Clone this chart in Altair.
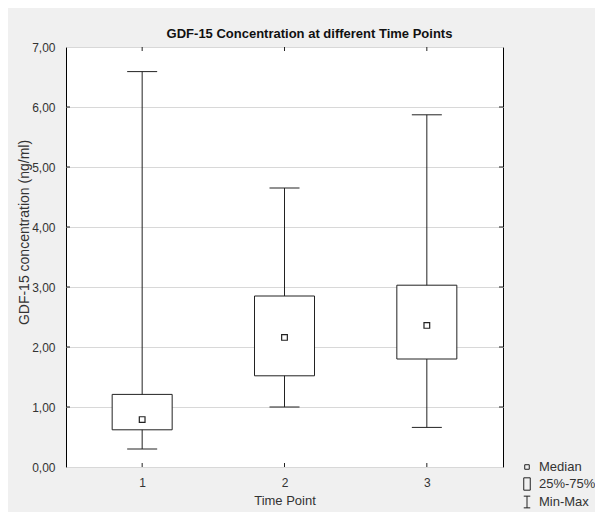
import altair as alt
import pandas as pd

# ---- data ----
time_points = [1, 2, 3]
mins = [0.30, 1.00, 0.66]
q1s = [0.62, 1.52, 1.80]
medians = [0.79, 2.16, 2.36]
q3s = [1.21, 2.85, 3.03]
maxs = [6.59, 4.65, 5.87]
y_tick_values = [0, 1, 2, 3, 4, 5, 6, 7]
legend_labels = ["Median", "25%-75%", "Min-Max"]

df = pd.DataFrame({
    "time": time_points, "min": mins, "q1": q1s, "median": medians,
    "q3": q3s, "max": maxs, "stat": ["Median"] * len(time_points),
})
ytick_df = pd.DataFrame({"v": y_tick_values[1:-1]})
xtick_df = pd.DataFrame({"t": time_points})

W, H = 437, 420
font = "Liberation Sans"
line_color = "#222222"
text_color = "#333333"

xscale = alt.Scale(domain=[0.5, 3.5], nice=False, zero=False)
yscale = alt.Scale(domain=[0, 7], nice=False, zero=False)

xaxis = alt.Axis(values=time_points, format="d", title="Time Point", grid=False,
                 domain=False, ticks=False, labelPadding=10, titlePadding=6,
                 labelFontSize=12, titleFontSize=13, labelColor=text_color,
                 titleColor=text_color, labelFont=font, titleFont=font,
                 titleFontWeight="normal")
yaxis = alt.Axis(values=y_tick_values,
                 labelExpr="replace(format(datum.value, '.2f'), '.', ',')",
                 title="GDF-15 concentration (ng/ml)", grid=True, gridColor="#d8d8d8",
                 domain=False, ticks=False, labelPadding=11, labelFontSize=12,
                 titleFontSize=14, labelColor=text_color, titleColor=text_color,
                 labelFont=font, titleFont=font, titleFontWeight="normal",
                 titleX=-42, titleY=185, titleAngle=270, titleAlign="center",
                 titleBaseline="middle")

sq_path = "M-0.35,-0.35H0.35V0.35H-0.35Z"
rect_path = "M-0.5,-0.95H0.5V0.95H-0.5Z"
ibeam_path = "M-0.5,-0.9H0.5M0,-0.9V0.9M-0.5,0.9H0.5"

base = alt.Chart(df)

whisker = base.mark_rule(color=line_color, strokeWidth=1).encode(
    x=alt.X("time:Q", scale=xscale, axis=xaxis),
    y=alt.Y("min:Q", scale=yscale, axis=yaxis),
    y2="max:Q",
)
cap_max = base.mark_tick(orient="horizontal", size=30, thickness=1, color=line_color, opacity=1).encode(
    x=alt.X("time:Q", scale=xscale), y=alt.Y("max:Q", scale=yscale))
cap_min = base.mark_tick(orient="horizontal", size=30, thickness=1, color=line_color, opacity=1).encode(
    x=alt.X("time:Q", scale=xscale), y=alt.Y("min:Q", scale=yscale))
box = base.mark_bar(size=60, fill="white", stroke=line_color, strokeWidth=1).encode(
    x=alt.X("time:Q", scale=xscale), y=alt.Y("q1:Q", scale=yscale), y2="q3:Q")
med = base.mark_point(filled=False, color=line_color, strokeWidth=1.2,
                      size=265, opacity=1).encode(
    x=alt.X("time:Q", scale=xscale),
    y=alt.Y("median:Q", scale=yscale),
    shape=alt.Shape("stat:N",
                    scale=alt.Scale(domain=legend_labels, range=[sq_path, rect_path, ibeam_path]),
                    legend=alt.Legend(orient="none", legendX=454, legendY=413, title=None,
                                      labelFontSize=13, labelFont=font, labelColor=text_color,
                                      symbolSize=169, symbolStrokeWidth=1,
                                      symbolOpacity=1,
                                      rowPadding=1, labelOffset=5, padding=0)),
)

left_ticks = alt.Chart(ytick_df).mark_rule(color=line_color).encode(
    y=alt.Y("v:Q", scale=yscale), x=alt.value(0), x2=alt.value(4))
right_ticks = alt.Chart(ytick_df).mark_rule(color=line_color).encode(
    y=alt.Y("v:Q", scale=yscale), x=alt.value(W - 4), x2=alt.value(W))
top_ticks = alt.Chart(xtick_df).mark_rule(color=line_color).encode(
    x=alt.X("t:Q", scale=xscale), y=alt.value(0), y2=alt.value(4))
bottom_ticks = alt.Chart(xtick_df).mark_rule(color=line_color).encode(
    x=alt.X("t:Q", scale=xscale), y=alt.value(H - 4), y2=alt.value(H))

chart = alt.layer(
    whisker, box, cap_max, cap_min, med, left_ticks, right_ticks, top_ticks, bottom_ticks
).properties(
    width=W, height=H,
    autosize=alt.AutoSizeParams(type="none"),
    padding={"left": 58, "top": 39, "right": 92, "bottom": 45},
    background="#f0f0f0",
    title=alt.TitleParams("GDF-15 Concentration at different Time Points", fontSize=13,
                          fontWeight="bold", font=font, anchor="middle", dx=25,
                          offset=0, color="#111111"),
).configure_view(stroke="black", strokeWidth=1, fill="white")

chart.save("out.html", embed_options={"renderer": "svg", "actions": False})
